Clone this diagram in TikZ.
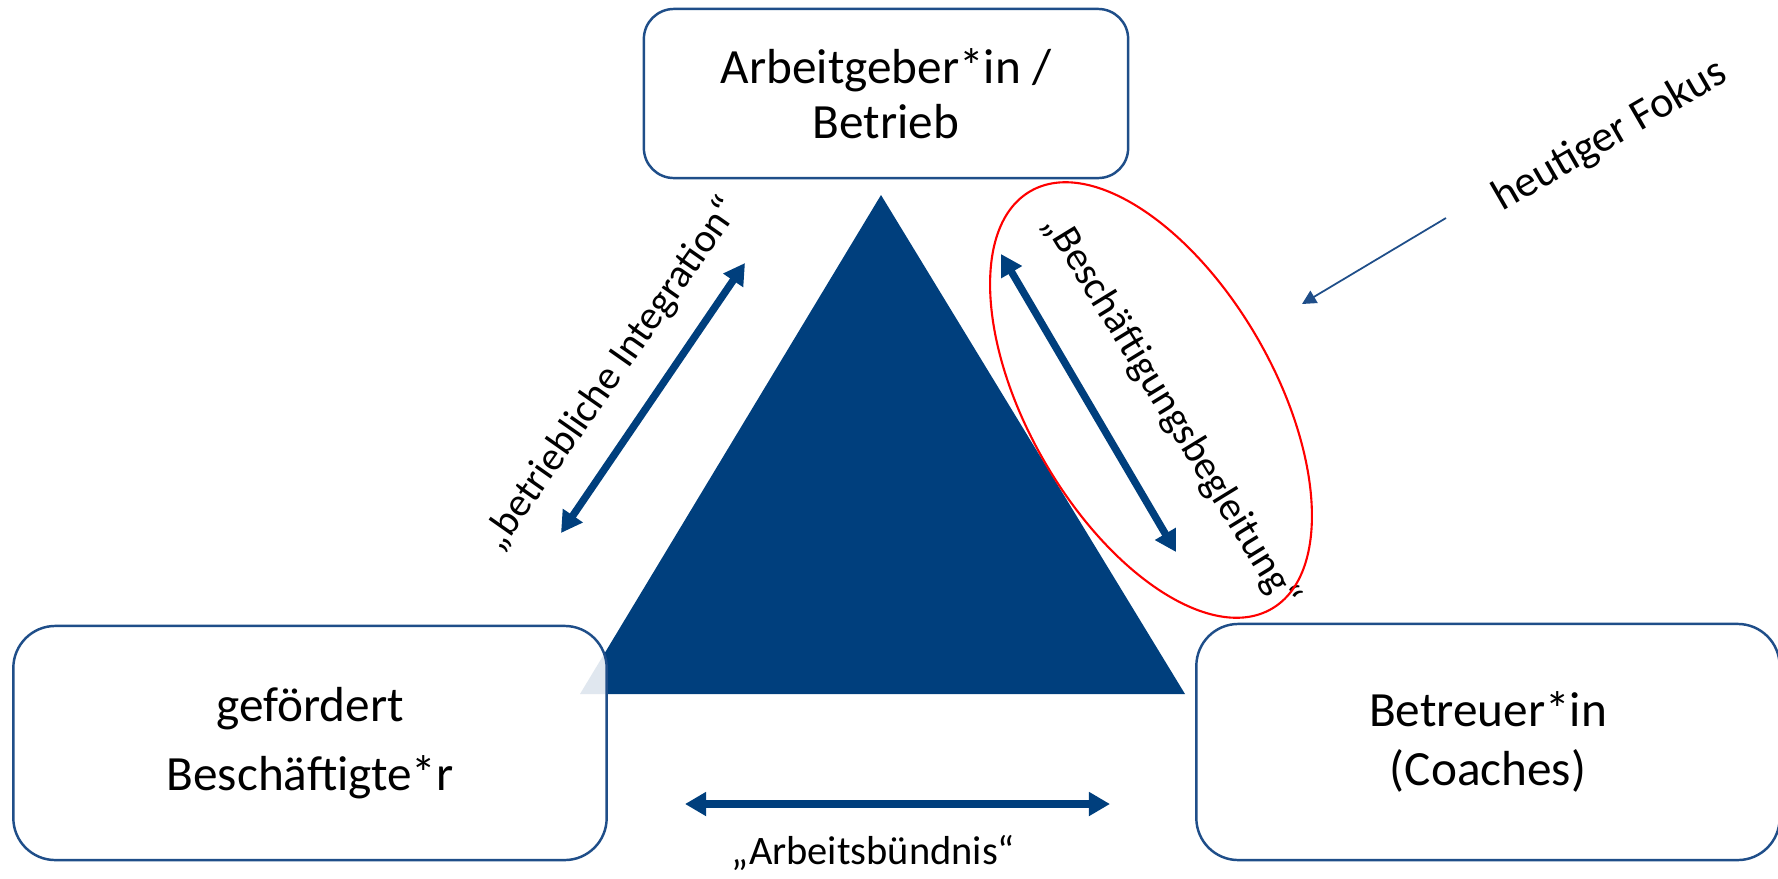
\documentclass[tikz,border=0pt]{standalone}
\usepackage{fontspec}
\setmainfont{Carlito}
\usetikzlibrary{arrows.meta}
\definecolor{dblue}{RGB}{0,63,125}
\definecolor{lblue}{RGB}{31,78,137}
\tikzset{
  rolebox/.style={draw=lblue, line width=0.7pt, rounded corners=0.35cm, fill=white,
    fill opacity=0.88, text opacity=1, align=center, inner sep=0pt},
  relarrow/.style={dblue, line width=2.1pt,
    {Triangle[length=6pt,width=6.5pt]}-{Triangle[length=6pt,width=6.5pt]}},
  rellabel/.style={font=\fontsize{11.5}{14}\selectfont},
}
\begin{document}
\begin{tikzpicture}[x=0.01cm,y=-0.01cm]
      \useasboundingbox (0,0) rectangle (1778,878);
      \def\apexx{881}
      \def\apexy{195}
      \def\baseleft{580}
      \def\baseright{1185}
      \def\basey{694}

      \fill[dblue] (\apexx,\apexy) -- (\baseright,\basey) -- (\baseleft,\basey) -- cycle;

      \node[rolebox, rounded corners=0.3cm, minimum width=4.84cm, minimum height=1.69cm,
        font=\fontsize{14}{15.5}\selectfont] (employer) at (886,93.5) {Arbeitgeber*in /\\Betrieb};
      \node[rolebox, rounded corners=0.42cm, minimum width=5.93cm, minimum height=2.34cm,
        font=\fontsize{14}{19.5}\selectfont] (employee) at (310,743) {gefördert\\Beschäftigte*r};
      \node[rolebox, rounded corners=0.42cm, minimum width=5.83cm, minimum height=2.36cm,
        font=\fontsize{14}{17}\selectfont] (coach) at (1488,742) {Betreuer*in\\(Coaches)};

      \coordinate (intA) at (561,533);
      \coordinate (intB) at (745,263);
      \coordinate (begA) at (1001,254);
      \coordinate (begB) at (1176,552);
      \coordinate (bundA) at (685,804);
      \coordinate (bundB) at (1110,804);
      \draw[relarrow] (intA) -- (intB);
      \draw[relarrow] (begA) -- (begB);
      \draw[relarrow] (bundA) -- (bundB);

      \node[rellabel, rotate=55] (integration) at (612,374) {„betriebliche Integration“};
      \node[rellabel, rotate=-58.5] (begleitung) at (1171,411) {„Beschäftigungsbegleitung“};
      \node[rellabel] (buendnis) at (873,853) {„Arbeitsbündnis“};

      \draw[red, line width=0.6pt, rotate around={-60:(1151,400)}]
        (1151,400) ellipse [x radius=2.41cm, y radius=1.23cm];

      \node[font=\fontsize{12.5}{15}\selectfont, rotate=30] (fokus) at (1610,136) {heutiger Fokus};
      \coordinate (fokusTail) at (1446,218);
      \coordinate (fokusTip) at (1302,304);
      \draw[lblue, line width=0.5pt, -{Triangle[length=4pt,width=4pt]}] (fokusTail) -- (fokusTip);
    \end{tikzpicture}
\end{document}
